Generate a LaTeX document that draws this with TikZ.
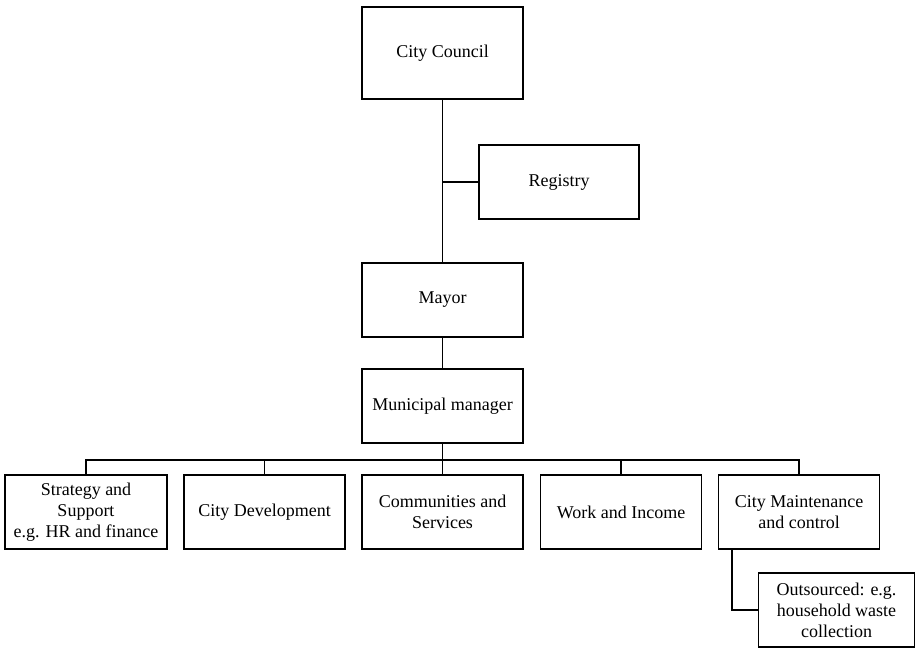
\documentclass[tikz,border=0pt]{standalone}
\usepackage{fontspec}
\setmainfont{Liberation Serif}
\begin{document}
\begin{tikzpicture}[x=1pt,y=-1pt,
  unit/.style={draw, line width=1.3pt, minimum width=161pt, minimum height=74pt,
    inner sep=2pt, align=center, font=\fontsize{18}{21}\selectfont},
  link/.style={line width=1.3pt}]
\useasboundingbox (0,0) rectangle (916,648);
% top of the hierarchy
\node[unit, minimum height=92pt] (council) at (442.5,53) {City Council};
\node[unit, minimum width=160pt] (registry) at (559,182) {Registry};
\node[unit] (mayor) at (442.5,300) {Mayor};
\node[unit] (manager) at (442.5,406) {Municipal manager};
% departments
\node[unit, minimum width=162pt] (strategy) at (86,512) {Strategy and\\Support\\e.g. HR and finance};
\node[unit] (citydev) at (264.5,512) {City Development};
\node[unit] (communities) at (442.5,512) {Communities and\\Services};
\node[unit] (work) at (621,512) {Work and Income};
\node[unit] (maint) at (799,512) {City Maintenance\\and control};
\node[unit, minimum width=156pt] (outsourced) at (836.5,610) {Outsourced: e.g.\\household waste\\collection};
% connectors
\draw[link] (council.south) -- (mayor.north);
\draw[link] (registry.west) -- (registry.west -| council.south);
\draw[link] (mayor.south) -- (manager.north);
\coordinate (bus) at (442.5,460);
\draw[link] (manager.south) -- (bus);
\draw[link] (strategy.north) |- (bus) -| (maint.north);
\draw[link] (citydev.north) -- (citydev.north |- bus);
\draw[link] (communities.north) -- (bus);
\draw[link] (work.north) -- (work.north |- bus);
\coordinate (drop) at ([xshift=-67pt]maint.south);
\draw[link] (drop) |- (outsourced.west);
\end{tikzpicture}
\end{document}
